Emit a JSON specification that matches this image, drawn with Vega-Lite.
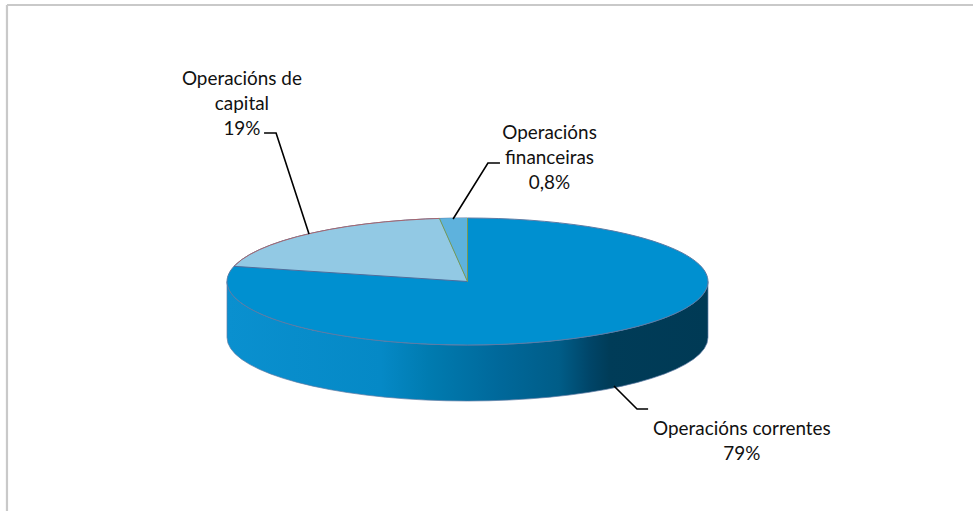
{"$schema":"https://vega.github.io/schema/vega-lite/v6.json","width":973,"height":511,"padding":0,"autosize":{"type":"fit","contains":"padding"},"background":"white","view":{"stroke":null},
"datasets":{
"frame":[{"side":"top","u":-191.5,"v":435.4},{"side":"top","u":210.2,"v":435.4},{"side":"left","u":-191.5,"v":435.4},{"side":"left","u":-191.5,"v":-361.4}],
"wall":[{"u":-100,"v":0,"b":-88.2},{"u":-99.62,"v":-8.72,"b":-96.92},{"u":-98.48,"v":-17.36,"b":-105.56},{"u":-96.59,"v":-25.88,"b":-114.08},{"u":-93.97,"v":-34.2,"b":-122.4},{"u":-90.63,"v":-42.26,"b":-130.46},{"u":-86.6,"v":-50,"b":-138.2},{"u":-81.92,"v":-57.36,"b":-145.56},{"u":-76.6,"v":-64.28,"b":-152.48},{"u":-70.71,"v":-70.71,"b":-158.91},{"u":-64.28,"v":-76.6,"b":-164.8},{"u":-57.36,"v":-81.92,"b":-170.12},{"u":-50,"v":-86.6,"b":-174.8},{"u":-42.26,"v":-90.63,"b":-178.83},{"u":-34.2,"v":-93.97,"b":-182.17},{"u":-25.88,"v":-96.59,"b":-184.79},{"u":-17.36,"v":-98.48,"b":-186.68},{"u":-8.72,"v":-99.62,"b":-187.82},{"u":0,"v":-100,"b":-188.2},{"u":8.72,"v":-99.62,"b":-187.82},{"u":17.36,"v":-98.48,"b":-186.68},{"u":25.88,"v":-96.59,"b":-184.79},{"u":34.2,"v":-93.97,"b":-182.17},{"u":42.26,"v":-90.63,"b":-178.83},{"u":50,"v":-86.6,"b":-174.8},{"u":57.36,"v":-81.92,"b":-170.12},{"u":64.28,"v":-76.6,"b":-164.8},{"u":70.71,"v":-70.71,"b":-158.91},{"u":76.6,"v":-64.28,"b":-152.48},{"u":81.92,"v":-57.36,"b":-145.56},{"u":86.6,"v":-50,"b":-138.2},{"u":90.63,"v":-42.26,"b":-130.46},{"u":93.97,"v":-34.2,"b":-122.4},{"u":96.59,"v":-25.88,"b":-114.08},{"u":98.48,"v":-17.36,"b":-105.56},{"u":99.62,"v":-8.72,"b":-96.92},{"u":100,"v":0,"b":-88.2}],
"top":[{"i":0,"u":0,"v":100},{"i":1,"u":25.88,"v":96.59},{"i":2,"u":50,"v":86.6},{"i":3,"u":70.71,"v":70.71},{"i":4,"u":86.6,"v":50},{"i":5,"u":96.59,"v":25.88},{"i":6,"u":100,"v":0},{"i":7,"u":96.59,"v":-25.88},{"i":8,"u":86.6,"v":-50},{"i":9,"u":70.71,"v":-70.71},{"i":10,"u":50,"v":-86.6},{"i":11,"u":25.88,"v":-96.59},{"i":12,"u":0,"v":-100},{"i":13,"u":-25.88,"v":-96.59},{"i":14,"u":-50,"v":-86.6},{"i":15,"u":-70.71,"v":-70.71},{"i":16,"u":-86.6,"v":-50},{"i":17,"u":-96.59,"v":-25.88},{"i":18,"u":-100,"v":0},{"i":19,"u":-96.59,"v":25.88},{"i":20,"u":-86.6,"v":50},{"i":21,"u":-70.71,"v":70.71},{"i":22,"u":-50,"v":86.6},{"i":23,"u":-25.88,"v":96.59}],
"capital":[{"i":0,"u":0,"v":0},{"i":1,"u":-97.1,"v":23.9},{"i":2,"u":-93.97,"v":34.2},{"i":3,"u":-90.63,"v":42.26},{"i":4,"u":-86.6,"v":50},{"i":5,"u":-81.92,"v":57.36},{"i":6,"u":-76.6,"v":64.28},{"i":7,"u":-70.71,"v":70.71},{"i":8,"u":-64.28,"v":76.6},{"i":9,"u":-57.36,"v":81.92},{"i":10,"u":-50,"v":86.6},{"i":11,"u":-42.26,"v":90.63},{"i":12,"u":-34.2,"v":93.97},{"i":13,"u":-25.88,"v":96.59},{"i":14,"u":-17.36,"v":98.48},{"i":15,"u":-11.67,"v":99.32}],
"fin":[{"i":0,"u":0,"v":0},{"i":1,"u":-11.67,"v":99.32},{"i":2,"u":-8.72,"v":99.62},{"i":3,"u":-4.36,"v":99.9},{"i":4,"u":0,"v":100}],
"edges":[{"e":"radius","i":0,"u":-97.1,"v":23.9},{"e":"radius","i":1,"u":0,"v":0},{"e":"fin1","i":0,"u":-11.67,"v":99.32},{"e":"fin1","i":1,"u":0,"v":0},{"e":"fin1","i":2,"u":0,"v":100}],
"arc":[{"i":1,"u":-97.1,"v":23.9},{"i":2,"u":-93.97,"v":34.2},{"i":3,"u":-90.63,"v":42.26},{"i":4,"u":-86.6,"v":50},{"i":5,"u":-81.92,"v":57.36},{"i":6,"u":-76.6,"v":64.28},{"i":7,"u":-70.71,"v":70.71},{"i":8,"u":-64.28,"v":76.6},{"i":9,"u":-57.36,"v":81.92},{"i":10,"u":-50,"v":86.6},{"i":11,"u":-42.26,"v":90.63},{"i":12,"u":-34.2,"v":93.97},{"i":13,"u":-25.88,"v":96.59},{"i":14,"u":-17.36,"v":98.48},{"i":15,"u":-11.67,"v":99.32}],
"leaders":[{"l":"capital","i":0,"u":-84.6,"v":233.9},{"l":"capital","i":1,"u":-79.6,"v":233.9},{"l":"capital","i":2,"u":-65.9,"v":74.8},{"l":"fin","i":0,"u":13.5,"v":186.6},{"l":"fin","i":1,"u":8.5,"v":186.6},{"l":"fin","i":2,"u":-6,"v":98.4},{"l":"cor","i":0,"u":75.1,"v":-200.8},{"l":"cor","i":1,"u":70.5,"v":-200.8},{"l":"cor","i":2,"u":60.9,"v":-164.6}],
"labels":[{"t":"Operacións de\ncapital\n19%","u":-93.8,"v":333},{"t":"Operacións\nfinanceiras\n0,8%","u":34.1,"v":248},{"t":"Operacións correntes\n79%","u":114.1,"v":-218.2}]
},
"encoding":{"x":{"field":"u","type":"quantitative","axis":null,"scale":{"domain":[-194.4,210.2],"nice":false,"zero":false}},"y":{"field":"v","type":"quantitative","axis":null,"scale":{"domain":[-361.4,443.3],"nice":false,"zero":false}}},
"layer":[
{"data":{"name":"frame"},"mark":{"type":"line","color":"#c9c9c9","strokeWidth":2.2,"clip":true},"encoding":{"detail":{"field":"side"}}},
{"data":{"name":"wall"},"mark":{"type":"area","stroke":"#5d7ba5","strokeWidth":0.7,"fill":{"gradient":"linear","x1":0,"y1":0,"x2":1,"y2":0,"stops":[{"offset":0,"color":"#0a90cf"},{"offset":0.32,"color":"#0589c6"},{"offset":0.42,"color":"#007bb0"},{"offset":0.57,"color":"#00689a"},{"offset":0.69,"color":"#005d88"},{"offset":0.755,"color":"#004568"},{"offset":0.795,"color":"#003c58"},{"offset":1,"color":"#003a55"}]}},"encoding":{"y2":{"field":"b"}}},
{"data":{"name":"top"},"mark":{"type":"line","interpolate":"cardinal-closed","fill":"#0090d0","stroke":"#5d7ba5","strokeWidth":1},"encoding":{"order":{"field":"i"}}},
{"data":{"name":"capital"},"mark":{"type":"line","interpolate":"linear-closed","fill":"#92c9e4","stroke":null},"encoding":{"order":{"field":"i"}}},
{"data":{"name":"fin"},"mark":{"type":"line","interpolate":"linear-closed","fill":"#5eb2dd","stroke":null},"encoding":{"order":{"field":"i"}}},
{"data":{"name":"arc"},"mark":{"type":"line","color":"#a8656e","strokeWidth":1},"encoding":{"order":{"field":"i"}}},
{"data":{"name":"edges"},"mark":{"type":"line","strokeWidth":1},"encoding":{"order":{"field":"i"},"color":{"field":"e","legend":null,"scale":{"domain":["radius","fin1"],"range":["#4f6d9c","#7a9a55"]}}}},
{"data":{"name":"leaders"},"mark":{"type":"line","color":"#000000","strokeWidth":1.6},"encoding":{"order":{"field":"i"},"detail":{"field":"l"}}},
{"data":{"name":"labels"},"mark":{"type":"text","font":"Lato","fontSize":18.9,"color":"#111111","align":"center","baseline":"top","lineBreak":"\n","lineHeight":25},"encoding":{"text":{"field":"t"}}}
]}
